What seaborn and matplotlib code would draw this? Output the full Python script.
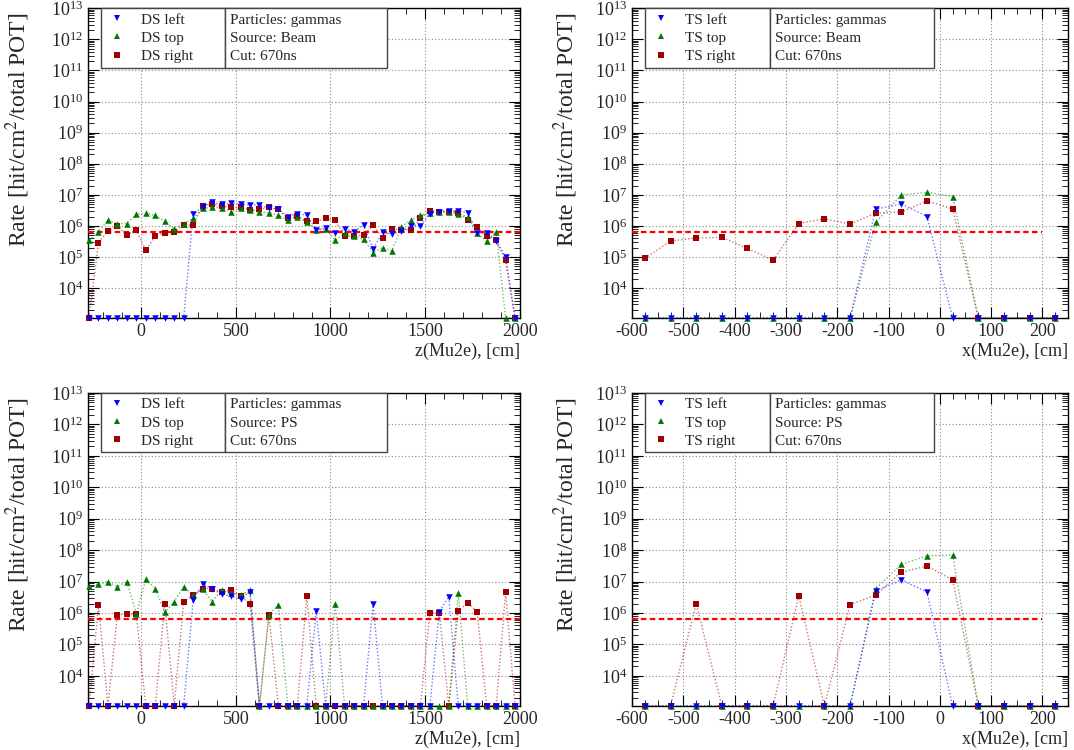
import numpy as np
import pandas as pd
import matplotlib
matplotlib.use("Agg")
import matplotlib.pyplot as plt
import matplotlib.ticker as mticker
from matplotlib.lines import Line2D
from matplotlib.patches import Patch
import seaborn as sns

# bin centres (cm)
z_ds = [-275, -225, -175, -125, -75, -25, 25, 75, 125, 175, 225, 275, 325, 375, 425,
        475, 525, 575, 625, 675, 725, 775, 825, 875, 925, 975, 1025, 1075, 1125, 1175,
        1225, 1275, 1325, 1375, 1425, 1475, 1525, 1575, 1625, 1675, 1725, 1775, 1825,
        1875, 1925, 1975]
x_ts = [-575, -525, -475, -425, -375, -325, -275, -225, -175, -125, -75, -25, 25, 75,
        125, 175, 225]

# rates, source: Beam
ds_beam_left = [0, 0, 0, 0, 0, 0, 0, 0, 0, 0, 0,
                2.4e6, 4.2e6, 5.8e6, 5.0e6, 5.4e6, 5.1e6, 4.8e6, 4.8e6, 3.7e6, 3.5e6,
                2.0e6, 2.5e6, 2.2e6, 7.7e5, 8.3e5, 5.9e5, 8.0e5, 6.5e5, 1.1e6, 1.8e5,
                6.2e5, 5.5e5, 6.8e5, 1.0e6, 1.0e6, 2.5e6, 2.9e6, 3.1e6, 3.0e6, 2.7e6,
                6.0e5, 5.8e5, 3.3e5, 1.0e5, 0]
ds_beam_top = [3.5e5, 6.5e5, 1.55e6, 1.2e6, 1.2e6, 2.4e6, 2.55e6, 2.2e6, 1.4e6, 8.0e5,
               1.2e6, 1.75e6, 3.7e6, 4.0e6, 3.9e6, 2.9e6, 3.7e6, 3.3e6, 2.75e6, 2.7e6,
               2.2e6, 1.6e6, 2.0e6, 1.3e6, 7.7e5, 8.0e5, 3.5e5, 5.8e5, 4.7e5, 3.7e5,
               1.4e5, 2.0e5, 1.6e5, 9.5e5, 1.55e6, 2.2e6, 2.7e6, 2.9e6, 2.8e6, 2.4e6,
               2.0e6, 5.8e5, 3.3e5, 6.5e5, 0, 0]
ds_beam_right = [0, 2.9e5, 7.0e5, 1.0e6, 5.1e5, 7.4e5, 1.66e5, 4.8e5, 6.0e5, 6.2e5,
                 1.07e6, 1.1e6, 4.4e6, 5.0e6, 4.4e6, 4.0e6, 4.0e6, 3.3e6, 3.4e6, 4.0e6,
                 3.4e6, 1.75e6, 2.1e6, 1.4e6, 1.4e6, 1.75e6, 1.5e6, 4.7e5, 4.8e5, 5.0e5,
                 1.07e6, 4.0e5, 8.0e5, 7.4e5, 7.7e5, 1.75e6, 3.1e6, 2.9e6, 2.9e6, 2.7e6,
                 1.6e6, 9.0e5, 4.7e5, 3.5e5, 7.8e4, 0]
ts_beam_left = [0, 0, 0, 0, 0, 0, 0, 0, 0, 3.5e6, 5.1e6, 2.0e6, 0, 0, 0, 0, 0]
ts_beam_top = [0, 0, 0, 0, 0, 0, 0, 0, 0, 1.3e6, 1.0e7, 1.2e7, 8.8e6, 0, 0, 0, 0]
ts_beam_right = [9.1e4, 3.3e5, 4.1e5, 4.3e5, 1.9e5, 8.0e4, 1.2e6, 1.7e6, 1.15e6, 2.6e6,
                 2.8e6, 6.4e6, 3.5e6, 0, 0, 0, 0]

# rates, source: PS
ds_ps_left = [0, 0, 0, 0, 0, 0, 0, 0, 0, 0, 0,
              2.6e6, 8.6e6, 6.0e6, 4.0e6, 3.4e6, 2.8e6, 4.8e6, 0, 0, 0,
              0, 0, 0, 1.2e6, 0, 0, 0, 0, 0, 2.0e6,
              0, 0, 0, 0, 0, 0, 1.1e6, 3.3e6, 0, 0,
              0, 0, 0, 0, 0]
ds_ps_top = [7.0e6, 8.2e6, 1.0e7, 6.9e6, 1.0e7, 9.3e5, 1.2e7, 6.0e6, 1.05e6, 2.3e6,
             6.9e6, 3.7e6, 5.7e6, 2.3e6, 5.4e6, 4.3e6, 3.8e6, 5.2e6, 0, 8.9e5,
             1.8e6, 0, 0, 0, 0, 0, 2.0e6, 0, 0, 0,
             0, 0, 0, 0, 0, 0, 0, 0, 0, 4.3e6,
             0, 0, 0, 0, 0, 0]
ds_ps_right = [0, 1.85e6, 0, 8.7e5, 9.3e5, 9.0e5, 0, 0, 2.0e6, 0,
               2.3e6, 3.7e6, 6.0e6, 6.0e6, 4.6e6, 5.4e6, 3.4e6, 2.0e6, 0, 8.7e5,
               0, 0, 0, 3.4e6, 0, 0, 0, 0, 0, 0,
               0, 0, 0, 0, 0, 0, 1.0e6, 1.0e6, 0, 1.2e6,
               2.1e6, 1.1e6, 0, 0, 4.6e6, 0]
ts_ps_left = [0, 0, 0, 0, 0, 0, 0, 0, 0, 5.0e6, 1.13e7, 4.6e6, 0, 0, 0, 0, 0]
ts_ps_top = [0, 0, 0, 0, 0, 0, 0, 0, 0, 6.0e6, 3.5e7, 6.6e7, 7.0e7, 0, 0, 0, 0]
ts_ps_right = [0, 0, 1.95e6, 0, 0, 0, 3.5e6, 0, 1.85e6, 3.7e6, 2.0e7, 3.1e7, 1.13e7,
               0, 0, 0, 0]

limit_rate = 6.3e5
y_lo, y_hi = 1.1e3, 1e13

sns.set_theme(style="ticks")
plt.rcParams["font.family"] = ["Liberation Serif", "DejaVu Serif"]
plt.rcParams["mathtext.fontset"] = "stix"
plt.rcParams["axes.unicode_minus"] = False

c_left, c_top, c_right = "#0000ff", "#007800", "#a00000"

fig = plt.figure(figsize=(10.74, 7.5), dpi=100)

panels = [
    # pos, x, series, prefix, source, xlim, xlabel, line range, major/minor x, ylabel x
    ([0.082, 0.576, 0.402, 0.413], z_ds, (ds_beam_left, ds_beam_top, ds_beam_right),
     "DS", "Beam", (-280, 2000), "z(Mu2e), [cm]", (-280, 2000), 500, 100, -0.13),
    ([0.5885, 0.576, 0.406, 0.413], x_ts, (ts_beam_left, ts_beam_top, ts_beam_right),
     "TS", "Beam", (-600, 250), "x(Mu2e), [cm]", (-600, 200), 100, 25, -0.12),
    ([0.082, 0.0587, 0.402, 0.4173], z_ds, (ds_ps_left, ds_ps_top, ds_ps_right),
     "DS", "PS", (-280, 2000), "z(Mu2e), [cm]", (-280, 2000), 500, 100, -0.13),
    ([0.5885, 0.0587, 0.406, 0.4173], x_ts, (ts_ps_left, ts_ps_top, ts_ps_right),
     "TS", "PS", (-600, 250), "x(Mu2e), [cm]", (-600, 200), 100, 25, -0.12),
]

for pos, xs, (s_left, s_top, s_right), prefix, source, xlim, xlabel, lrange, maj, mnr, ylx in panels:
    ax = fig.add_axes(pos)
    ax.set_yscale("log")
    df = pd.DataFrame({"x": xs, "left": s_left, "top": s_top, "right": s_right})
    # empty bins are drawn on the bottom edge, as ROOT does
    for col in ["left", "top", "right"]:
        df[col] = df[col].where(df[col] > 0, y_lo)

    for col, color, marker in [("right", c_right, "s"), ("top", c_top, "^"), ("left", c_left, "v")]:
        sns.lineplot(data=df, x="x", y=col, ax=ax, color=color, lw=1.0, alpha=0.55,
                     linestyle=(0, (1, 1.5)), estimator=None)
        sns.scatterplot(data=df, x="x", y=col, ax=ax, color=color, marker=marker, s=22,
                        linewidth=0, clip_on=False, zorder=5)

    ax.hlines(limit_rate, lrange[0], lrange[1], colors="#ff0000", linestyles=(0, (2.5, 1.5)),
              lw=1.6, zorder=4)

    ax.set_xlim(*xlim)
    ax.set_ylim(y_lo, y_hi)
    ax.xaxis.set_major_locator(mticker.MultipleLocator(maj))
    ax.xaxis.set_minor_locator(mticker.MultipleLocator(mnr))
    ax.yaxis.set_major_locator(mticker.LogLocator(base=10, numticks=20))
    ax.yaxis.set_minor_locator(mticker.LogLocator(base=10, subs=np.arange(2, 10), numticks=20))
    ax.yaxis.set_minor_formatter(mticker.NullFormatter())
    ax.tick_params(which="both", direction="in", top=True, right=True, labelsize=13,
                   color="black")
    ax.tick_params(which="major", length=8, width=0.8)
    ax.tick_params(which="minor", length=4, width=0.6)
    ax.grid(True, which="major", color="#888888", linestyle=(0, (1, 2)), lw=0.8)
    for sp in ax.spines.values():
        sp.set_color("black")
        sp.set_linewidth(1.0)

    ax.set_xlabel(xlabel, fontsize=13, loc="right", labelpad=2)
    ax.set_ylabel("Rate [hit/cm$^{2}$/total POT]", fontsize=17, loc="top")
    ax.yaxis.set_label_coords(ylx, 0.985)

    handles = [Line2D([], [], color=c, marker=m, linestyle="none", markersize=4.5,
                      markeredgewidth=0)
               for c, m in [(c_left, "v"), (c_top, "^"), (c_right, "s")]]
    leg1 = ax.legend(handles, [f"{prefix} left", f"{prefix} top", f"{prefix} right"],
                     loc="upper left", bbox_to_anchor=(0.03, 0.6, 0.287, 0.4), mode="expand",
                     borderaxespad=0, fancybox=False, framealpha=1, edgecolor="#444444",
                     fontsize=11, handlelength=1.5, handletextpad=0.8, labelspacing=0.3,
                     borderpad=0.3)
    leg1.get_frame().set_linewidth(1.0)
    ax.add_artist(leg1)
    blank = [Patch(visible=False)] * 3
    leg2 = ax.legend(blank, ["Particles: gammas", f"Source: {source}", "Cut: 670ns"],
                     loc="upper left", bbox_to_anchor=(0.317, 0.6, 0.376, 0.4), mode="expand",
                     borderaxespad=0, fancybox=False, framealpha=1, edgecolor="#444444",
                     fontsize=11, handlelength=0, handletextpad=0, labelspacing=0.3,
                     borderpad=0.3)
    leg2.get_frame().set_linewidth(1.0)

fig.savefig("out.png", dpi=100)
